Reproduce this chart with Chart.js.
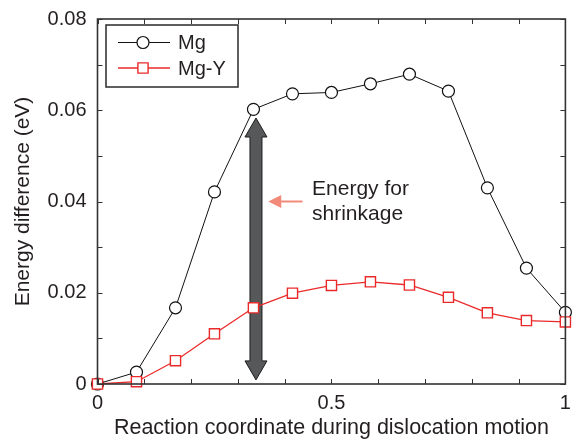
<!DOCTYPE html>
<html>
<head>
<meta charset="utf-8">
<script src="https://cdn.jsdelivr.net/npm/chart.js@4.4.1/dist/chart.umd.min.js"></script>
<style>
html,body{margin:0;padding:0;background:#ffffff;}
#wrap{width:574px;height:442px;}
canvas{display:block;}
</style>
</head>
<body>
<div id="wrap"><canvas id="c" width="574" height="442"></canvas></div>
<script>
// ---- data ----
const reactionCoord = [0, 0.0833, 0.1667, 0.25, 0.3333, 0.4167, 0.5, 0.5833, 0.6667, 0.75, 0.8333, 0.9167, 1];
const mgEnergy  = [0, 0.0026, 0.0167, 0.0421, 0.0602, 0.0636, 0.0639, 0.0658, 0.0679, 0.0642, 0.0430, 0.0254, 0.0157];
const mgYEnergy = [0, 0.0005, 0.0051, 0.0110, 0.0167, 0.0199, 0.0216, 0.0224, 0.0217, 0.0190, 0.0156, 0.0139, 0.0136];
const seriesNames = ['Mg', 'Mg-Y'];
const xTickLabels = ['0', '0.5', '1'];
const yTickLabels = ['0', '0.02', '0.04', '0.06', '0.08'];
const xAxisTitle = 'Reaction coordinate during dislocation motion';
const yAxisTitle = 'Energy difference (eV)';
const noteLines = ['Energy for', 'shrinkage'];

const FONT = "'Liberation Sans', Arial, Helvetica, sans-serif";
const TEXT = '#231f20';
const AXIS = '#333333';
const RED = '#ea2a2a';

function toPoints(xs, ys) { return xs.map((x, i) => ({x: x, y: ys[i]})); }

// frame with inward ticks on all four sides
const framePlugin = {
  id: 'frame',
  afterDatasetsDraw(chart) {
    const {ctx, chartArea: a, scales: {x, y}} = chart;
    ctx.save();
    ctx.strokeStyle = AXIS;
    ctx.lineWidth = 1;
    const tl = 5;
    ctx.beginPath();
    x.ticks.forEach(t => {
      const px = Math.round(x.getPixelForValue(t.value)) + 0.5;
      ctx.moveTo(px, a.bottom); ctx.lineTo(px, a.bottom - tl);
      ctx.moveTo(px, a.top); ctx.lineTo(px, a.top + tl);
    });
    y.ticks.forEach(t => {
      const py = Math.round(y.getPixelForValue(t.value)) + 0.5;
      ctx.moveTo(a.left, py); ctx.lineTo(a.left + tl, py);
      ctx.moveTo(a.right, py); ctx.lineTo(a.right - tl, py);
    });
    ctx.stroke();
    ctx.lineWidth = 1.6;
    ctx.strokeRect(a.left, a.top, a.right - a.left, a.bottom - a.top);
    ctx.restore();
  }
};

// double arrow + note (drawn under the data)
const notePlugin = {
  id: 'note',
  beforeDatasetsDraw(chart) {
    const {ctx, scales: {x, y}} = chart;
    ctx.save();
    const ax = x.getPixelForValue(0.3387);
    const yTop = y.getPixelForValue(0.0583);
    const yBot = y.getPixelForValue(0.0009);
    const hw = 11, sw = 6, hl = 19;
    ctx.beginPath();
    ctx.moveTo(ax, yTop);
    ctx.lineTo(ax + hw, yTop + hl);
    ctx.lineTo(ax + sw, yTop + hl);
    ctx.lineTo(ax + sw, yBot - hl);
    ctx.lineTo(ax + hw, yBot - hl);
    ctx.lineTo(ax, yBot);
    ctx.lineTo(ax - hw, yBot - hl);
    ctx.lineTo(ax - sw, yBot - hl);
    ctx.lineTo(ax - sw, yTop + hl);
    ctx.lineTo(ax - hw, yTop + hl);
    ctx.closePath();
    ctx.fillStyle = '#575859';
    ctx.fill();
    ctx.strokeStyle = '#1e1e1e';
    ctx.lineWidth = 1;
    ctx.stroke();

    const py = y.getPixelForValue(0.0400);
    const x0 = x.getPixelForValue(0.4383);
    const x1 = x.getPixelForValue(0.3649);
    ctx.strokeStyle = '#f28a7a';
    ctx.fillStyle = '#f28a7a';
    ctx.lineWidth = 2;
    ctx.beginPath();
    ctx.moveTo(x0, py); ctx.lineTo(x1 + 10, py);
    ctx.stroke();
    ctx.beginPath();
    ctx.moveTo(x1, py);
    ctx.lineTo(x1 + 13, py - 6.5);
    ctx.lineTo(x1 + 13, py + 6.5);
    ctx.closePath();
    ctx.fill();

    ctx.fillStyle = TEXT;
    ctx.font = '21px ' + FONT;
    ctx.textAlign = 'left';
    ctx.textBaseline = 'alphabetic';
    const tx = x.getPixelForValue(0.4585);
    ctx.fillText(noteLines[0], tx, py - 7);
    ctx.fillText(noteLines[1], tx, py + 18);
    ctx.restore();
  }
};

// boxed legend with line + marker samples
const legendPlugin = {
  id: 'boxLegend',
  afterDraw(chart) {
    const {ctx, chartArea: a} = chart;
    ctx.save();
    const bx = a.left + 8.5, by = a.top + 6, bw = 132, bh = 62;
    ctx.fillStyle = '#ffffff';
    ctx.fillRect(bx, by, bw, bh);
    ctx.strokeStyle = '#2a2a2a';
    ctx.lineWidth = 1.5;
    ctx.strokeRect(bx, by, bw, bh);
    const rows = [by + 17.5, by + 43];
    chart.data.datasets.slice().sort((p, q) => p.legendIndex - q.legendIndex).forEach((ds, i) => {
      const ly = rows[i];
      ctx.strokeStyle = ds.borderColor;
      ctx.lineWidth = ds.borderWidth;
      ctx.beginPath();
      ctx.moveTo(bx + 12, ly); ctx.lineTo(bx + 64, ly);
      ctx.stroke();
      ctx.fillStyle = ds.pointBackgroundColor;
      ctx.strokeStyle = ds.pointBorderColor;
      ctx.lineWidth = ds.pointBorderWidth;
      ctx.beginPath();
      if (ds.pointStyle === 'circle') {
        ctx.arc(bx + 37, ly, ds.pointRadius, 0, Math.PI * 2);
      } else {
        const s = ds.pointRadius * Math.SQRT1_2;
        ctx.rect(bx + 37 - s, ly - s, 2 * s, 2 * s);
      }
      ctx.fill(); ctx.stroke();
      ctx.fillStyle = TEXT;
      ctx.font = '20px ' + FONT;
      ctx.textAlign = 'left';
      ctx.textBaseline = 'middle';
      ctx.fillText(ds.label, bx + 72, ly + 1);
    });
    ctx.restore();
  }
};

new Chart(document.getElementById('c'), {
  type: 'line',
  data: {
    datasets: [
      {
        label: seriesNames[0], legendIndex: 0, order: 2,
        data: toPoints(reactionCoord, mgEnergy),
        borderColor: '#111111', borderWidth: 1,
        pointStyle: 'circle', pointRadius: 6, pointBorderWidth: 1.2,
        pointBorderColor: '#111111', pointBackgroundColor: '#ffffff',
        tension: 0, clip: false
      },
      {
        label: seriesNames[1], legendIndex: 1, order: 1,
        data: toPoints(reactionCoord, mgYEnergy),
        borderColor: RED, borderWidth: 1.3,
        pointStyle: 'rect', pointRadius: 7.2, pointBorderWidth: 1.4,
        pointBorderColor: RED, pointBackgroundColor: '#ffffff',
        tension: 0, clip: false
      }
    ]
  },
  options: {
    responsive: false,
    animation: false,
    devicePixelRatio: 1,
    layout: {padding: {top: 19, right: 6.5, left: 0, bottom: 0}},
    plugins: {legend: {display: false}, tooltip: {enabled: false}},
    scales: {
      x: {
        type: 'linear', min: 0, max: 1,
        grid: {display: false, drawTicks: false},
        border: {display: false},
        ticks: {
          stepSize: 0.1, autoSkip: false, maxRotation: 0, padding: 7,
          color: TEXT, font: {family: FONT, size: 20},
          callback: v => { const k = Math.round(v * 10); return k % 5 === 0 ? xTickLabels[k / 5] : ''; }
        },
        title: {display: true, text: xAxisTitle, color: TEXT, font: {family: FONT, size: 21.5}, padding: {top: 0, bottom: 1}},
        afterFit: s => { s.height = 58; s.paddingLeft = 0; s.paddingRight = 0; }
      },
      y: {
        min: 0, max: 0.08,
        grid: {display: false, drawTicks: false},
        border: {display: false},
        ticks: {
          stepSize: 0.01, autoSkip: false, padding: 11,
          color: TEXT, font: {family: FONT, size: 20},
          callback: v => { const k = Math.round(v * 100); return k % 2 === 0 ? yTickLabels[k / 2] : ''; }
        },
        title: {display: true, text: yAxisTitle, color: TEXT, font: {family: FONT, size: 21}, padding: {top: 11, bottom: 0}},
        afterFit: s => { s.width = 97.5; s.paddingTop = 0; s.paddingBottom = 0; }
      }
    }
  },
  plugins: [notePlugin, framePlugin, legendPlugin]
});
</script>
</body>
</html>
